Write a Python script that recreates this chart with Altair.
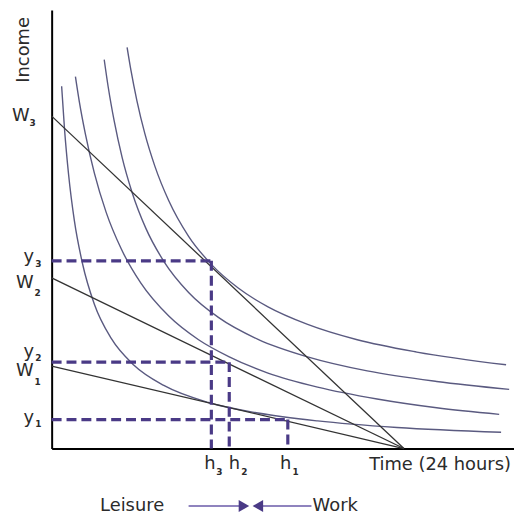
import altair as alt
import pandas as pd

# ---- indifference curves (leisure hours, income units)
curve_A_x = [5.14, 5.41, 5.81, 6.35, 7.03, 7.98, 9.33, 10.88, 12.71, 14.74, 17.44, 20.82, 24.88, 30.96]
curve_A_y = [91.5, 86.1, 79.3, 71.8, 64.4, 56.5, 48.4, 42.0, 36.6, 32.3, 28.3, 24.8, 22.0, 19.1]
curve_B_x = [3.58, 3.85, 4.26, 4.80, 5.48, 6.42, 7.64, 9.33, 11.36, 14.06, 17.44, 21.50, 26.23, 31.17]
curve_B_y = [88.7, 82.5, 74.7, 66.4, 58.4, 50.2, 42.7, 35.6, 29.9, 24.9, 20.9, 17.7, 15.3, 13.5]
curve_C_x = [1.62, 1.89, 2.30, 2.91, 3.72, 4.73, 6.08, 7.98, 10.01, 12.10, 14.74, 18.12, 22.17, 26.23, 30.49]
curve_C_y = [84.8, 79.0, 71.7, 62.8, 53.8, 45.6, 37.7, 30.2, 24.8, 20.9, 17.2, 14.0, 11.3, 9.3, 7.8]
curve_D_x = [0.68, 0.88, 1.15, 1.55, 2.10, 2.91, 4.06, 5.61, 7.64, 10.68, 14.06, 18.12, 23.53, 30.62]
curve_D_y = [82.6, 72.7, 62.6, 51.9, 42.2, 32.9, 25.1, 19.0, 14.4, 10.5, 8.1, 6.3, 4.8, 3.7]

# ---- budget lines: intercept on income axis, all end at 24 hours
budget_names = ["W1", "W2", "W3"]
budget_intercepts = [18.8, 38.9, 75.8]
total_hours = 24.0

# ---- optimal choices
h_vals = [16.09, 12.10, 10.88]
y_vals = [6.6, 19.7, 42.8]

# ---- label texts
y_letters = ["W", "y", "W", "y", "W", "y"]
y_subs = ["3", "3", "2", "2", "1", "1"]
y_letter_x = [-2.10, -1.55, -1.83, -1.55, -1.83, -1.55]
y_letter_y = [75.8, 43.7, 37.8, 21.9, 17.6, 7.0]
y_sub_x = [-1.30, -0.90, -0.95, -0.90, -0.95, -0.90]
y_sub_y = [74.2, 42.1, 35.5, 20.6, 15.1, 5.7]

h_letters = ["h", "h", "h"]
h_subs = ["3", "2", "1"]
h_letter_x = [10.78, 12.45, 15.95]
h_sub_x = [11.42, 13.12, 16.62]
h_letter_y = -3.6
h_sub_y = -5.4

# ---- build tables
curves = []
for name, xs, ys in [("A", curve_A_x, curve_A_y), ("B", curve_B_x, curve_B_y),
                     ("C", curve_C_x, curve_C_y), ("D", curve_D_x, curve_D_y)]:
    for i, (a, b) in enumerate(zip(xs, ys)):
        curves.append({"curve": name, "x": a, "y": b, "o": i})
curves_df = pd.DataFrame(curves)

budget_df = pd.DataFrame({
    "name": budget_names,
    "x": [0.0] * 3, "y": budget_intercepts,
    "x2": [total_hours] * 3, "y2": [0.0] * 3,
})

dash_h = pd.DataFrame({"x": [0.0] * 3, "x2": h_vals, "y": y_vals, "y2": y_vals})
dash_v = pd.DataFrame({"x": h_vals, "x2": h_vals, "y": y_vals, "y2": [0.0] * 3})

letters_df = pd.DataFrame({
    "t": y_letters + h_letters,
    "x": y_letter_x + h_letter_x,
    "y": y_letter_y + [h_letter_y] * 3,
})
subs_df = pd.DataFrame({
    "t": y_subs + h_subs,
    "x": y_sub_x + h_sub_x,
    "y": y_sub_y + [h_sub_y] * 3,
})

FONT = "DejaVu Sans"
TXT = "#2b2b2b"
PURPLE = "#4a3a86"

xs = alt.Scale(domain=[0, 31.5], nice=False, zero=False)
ys = alt.Scale(domain=[0, 100], nice=False, zero=False)
X = alt.X("x:Q", scale=xs, title=None)
Y = alt.Y("y:Q", scale=ys, title=None)

curve_layer = alt.Chart(curves_df).mark_line(
    color="#5a5a80", strokeWidth=1.4, interpolate="monotone"
).encode(x=X, y=Y, detail="curve:N", order="o:Q")

budget_layer = alt.Chart(budget_df).mark_rule(color="#333333", strokeWidth=1.3).encode(
    x=X, y=Y, x2="x2:Q", y2="y2:Q")

dash_layer_h = alt.Chart(dash_h).mark_rule(
    color=PURPLE, strokeWidth=3.2, strokeDash=[10, 5]).encode(x=X, y=Y, x2="x2:Q", y2="y2:Q")
dash_layer_v = alt.Chart(dash_v).mark_rule(
    color=PURPLE, strokeWidth=3.2, strokeDash=[10, 5]).encode(x=X, y=Y, x2="x2:Q", y2="y2:Q")

letter_layer = alt.Chart(letters_df).mark_text(
    font=FONT, fontSize=18, color=TXT, align="center", baseline="middle"
).encode(x=X, y=Y, text="t:N")
sub_layer = alt.Chart(subs_df).mark_text(
    font=FONT, fontSize=9, color=TXT, align="center", baseline="middle", fontWeight="bold"
).encode(x=X, y=Y, text="t:N")

income_df = pd.DataFrame({"t": ["Income"], "x": [-1.89], "y": [90.9]})
income_layer = alt.Chart(income_df).mark_text(
    font=FONT, fontSize=18, color=TXT, angle=270, align="center", baseline="middle"
).encode(x=X, y=Y, text="t:N")

time_df = pd.DataFrame({"t": ["Time (24 hours)"], "x": [21.63], "y": [-3.85]})
time_layer = alt.Chart(time_df).mark_text(
    font=FONT, fontSize=18, color=TXT, align="left", baseline="middle"
).encode(x=X, y=Y, text="t:N")

leisure_df = pd.DataFrame({"t": ["Leisure"], "x": [5.48], "y": [-13.1]})
leisure_layer = alt.Chart(leisure_df).mark_text(
    font=FONT, fontSize=18, color=TXT, align="center", baseline="middle"
).encode(x=X, y=Y, text="t:N")
work_df = pd.DataFrame({"t": ["Work"], "x": [17.78], "y": [-13.1]})
work_layer = alt.Chart(work_df).mark_text(
    font=FONT, fontSize=18, color=TXT, align="left", baseline="middle"
).encode(x=X, y=Y, text="t:N")

arrow_lines = pd.DataFrame({"x": [9.33, 14.1], "x2": [13.2, 17.7], "y": [-13.1, -13.1], "y2": [-13.1, -13.1]})
arrow_line_layer = alt.Chart(arrow_lines).mark_rule(color="#6a5aa8", strokeWidth=1.5).encode(
    x=X, y=Y, x2="x2:Q", y2="y2:Q")
heads = pd.DataFrame({"x": [13.1, 14.05], "y": [-13.1, -13.1], "shape": ["triangle-right", "triangle-left"]})
head_layer = alt.Chart(heads).mark_point(filled=True, size=150, color=PURPLE, opacity=1).encode(
    x=X, y=Y,
    shape=alt.Shape("shape:N", scale=alt.Scale(domain=["triangle-right", "triangle-left"],
                                                  range=["triangle-right", "triangle-left"]), legend=None))

chart = alt.layer(
    curve_layer, budget_layer, dash_layer_h, dash_layer_v,
    letter_layer, sub_layer, income_layer, time_layer,
    leisure_layer, work_layer, arrow_line_layer, head_layer,
).properties(
    width=466, height=442,
    autosize=alt.AutoSizeParams(type="none"),
    padding={"left": 44, "top": 0, "right": 0, "bottom": 70},
).configure_view(stroke=None).configure_axis(
    domain=True, domainColor="black", domainWidth=2, ticks=False, labels=False, grid=False, title=None
)

chart.save("out.html", embed_options={"renderer": "svg", "actions": False})
